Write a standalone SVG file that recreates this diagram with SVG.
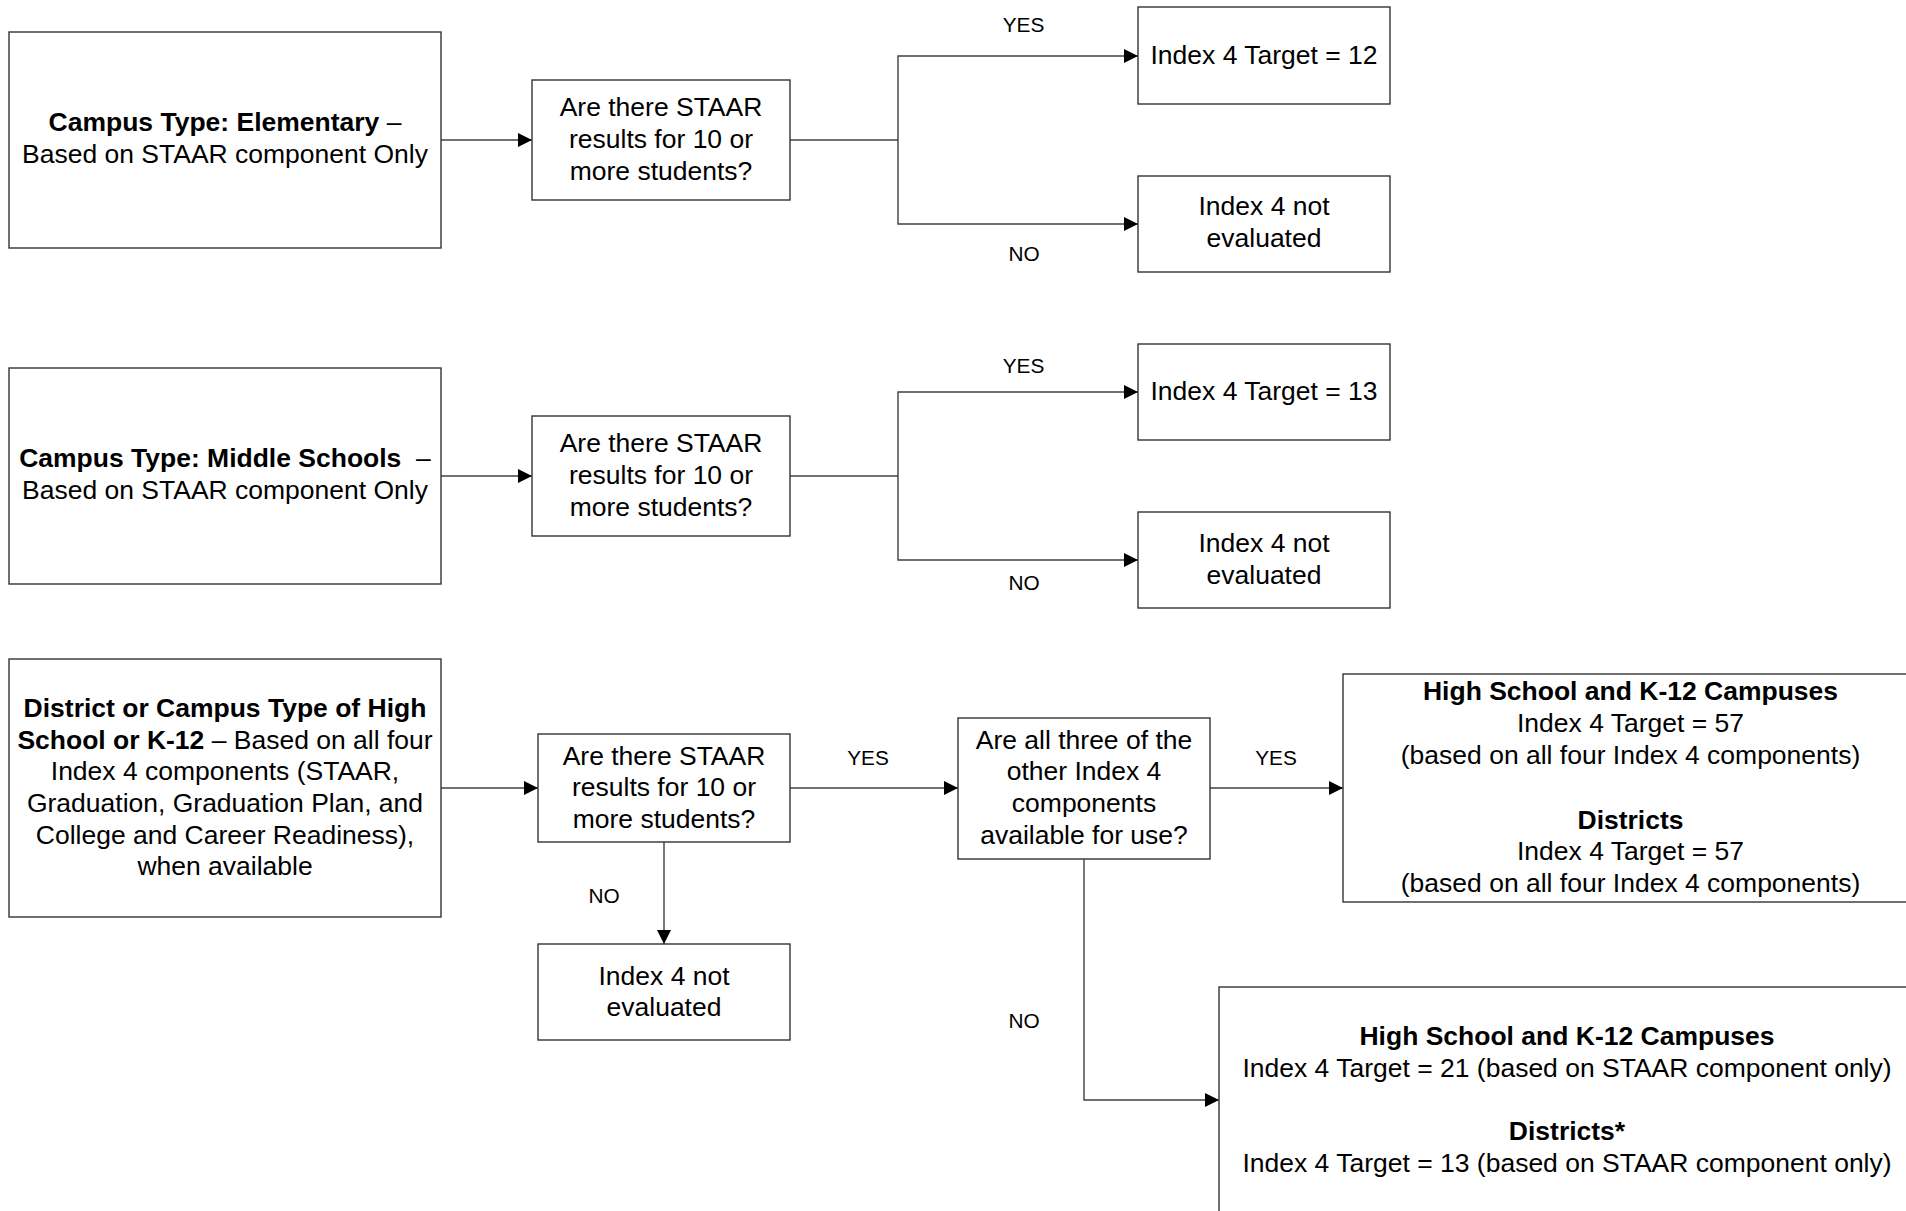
<svg xmlns="http://www.w3.org/2000/svg" width="1906" height="1211" viewBox="0 0 1906 1211">
<defs>
<marker id="arr" markerUnits="userSpaceOnUse" markerWidth="14" markerHeight="14" refX="14" refY="7" orient="auto">
<path d="M0,0 L14,7 L0,14 z" fill="#000"/>
</marker>
<style>
.box{fill:#fff;stroke:#333;stroke-width:1.4}
.t{font-family:"Liberation Sans",Arial,sans-serif;font-size:25px;fill:#000;text-anchor:middle}
.b{font-weight:bold}
.lbl{font-family:"Liberation Sans",Arial,sans-serif;font-size:20px;fill:#000;text-anchor:middle}
.c{fill:none;stroke:#404040;stroke-width:1.4}
</style>
</defs>
<rect width="1906" height="1211" fill="#fff"/>

<g id="connectors">
<path class="c" d="M441 140 H532" marker-end="url(#arr)"/>
<path class="c" d="M790 140 H898"/>
<path class="c" d="M898 140 V56 H1138" marker-end="url(#arr)"/>
<path class="c" d="M898 140 V224 H1138" marker-end="url(#arr)"/>
<path class="c" d="M441 476 H532" marker-end="url(#arr)"/>
<path class="c" d="M790 476 H898"/>
<path class="c" d="M898 476 V392 H1138" marker-end="url(#arr)"/>
<path class="c" d="M898 476 V560 H1138" marker-end="url(#arr)"/>
<path class="c" d="M441 788 H538" marker-end="url(#arr)"/>
<path class="c" d="M664 842 V944" marker-end="url(#arr)"/>
<path class="c" d="M790 788 H958" marker-end="url(#arr)"/>
<path class="c" d="M1210 788 H1343" marker-end="url(#arr)"/>
<path class="c" d="M1084 859 V1100 H1219" marker-end="url(#arr)"/>
<text class="lbl" transform="translate(1023.5 0) scale(1.04 1)" x="0" y="31.7">YES</text>
<text class="lbl" transform="translate(1024 0) scale(1.04 1)" x="0" y="261">NO</text>
<text class="lbl" transform="translate(1023.5 0) scale(1.04 1)" x="0" y="373.3">YES</text>
<text class="lbl" transform="translate(1024 0) scale(1.04 1)" x="0" y="590">NO</text>
<text class="lbl" transform="translate(868 0) scale(1.04 1)" x="0" y="765">YES</text>
<text class="lbl" transform="translate(1276 0) scale(1.04 1)" x="0" y="765">YES</text>
<text class="lbl" transform="translate(604 0) scale(1.04 1)" x="0" y="903.3">NO</text>
<text class="lbl" transform="translate(1024 0) scale(1.04 1)" x="0" y="1028.3">NO</text>
</g>

<g id="elementary">
<rect class="box" x="9" y="32" width="432" height="216"/>
<text class="t" transform="translate(225 0) scale(1.06 1)"><tspan x="0" y="131"><tspan class="b">Campus Type: Elementary</tspan> –</tspan><tspan x="0" y="163">Based on STAAR component Only</tspan></text>
</g>
<g id="q1">
<rect class="box" x="532" y="80" width="258" height="120"/>
<text class="t" transform="translate(661 0) scale(1.06 1)"><tspan x="0" y="116.5">Are there STAAR</tspan><tspan x="0" y="148.2">results for 10 or</tspan><tspan x="0" y="179.9">more students?</tspan></text>
</g>
<g id="target12">
<rect class="box" x="1138" y="7" width="252" height="97"/>
<text class="t" transform="translate(1264 0) scale(1.06 1)"><tspan x="0" y="64">Index 4 Target = 12</tspan></text>
</g>
<g id="noteval1">
<rect class="box" x="1138" y="176" width="252" height="96"/>
<text class="t" transform="translate(1264 0) scale(1.06 1)"><tspan x="0" y="215.5">Index 4 not</tspan><tspan x="0" y="247.2">evaluated</tspan></text>
</g>

<g id="middle">
<rect class="box" x="9" y="368" width="432" height="216"/>
<text class="t" transform="translate(225 0) scale(1.06 1)"><tspan x="0" y="467"><tspan class="b">Campus Type: Middle Schools</tspan>&#160; –</tspan><tspan x="0" y="499">Based on STAAR component Only</tspan></text>
</g>
<g id="q2">
<rect class="box" x="532" y="416" width="258" height="120"/>
<text class="t" transform="translate(661 0) scale(1.06 1)"><tspan x="0" y="452.2">Are there STAAR</tspan><tspan x="0" y="483.9">results for 10 or</tspan><tspan x="0" y="515.6">more students?</tspan></text>
</g>
<g id="target13">
<rect class="box" x="1138" y="344" width="252" height="96"/>
<text class="t" transform="translate(1264 0) scale(1.06 1)"><tspan x="0" y="400.5">Index 4 Target = 13</tspan></text>
</g>
<g id="noteval2">
<rect class="box" x="1138" y="512" width="252" height="96"/>
<text class="t" transform="translate(1264 0) scale(1.06 1)"><tspan x="0" y="552">Index 4 not</tspan><tspan x="0" y="583.7">evaluated</tspan></text>
</g>

<g id="highschool">
<rect class="box" x="9" y="659" width="432" height="258"/>
<text class="t" transform="translate(225 0) scale(1.06 1)"><tspan x="0" y="717" class="b">District or Campus Type of High</tspan><tspan x="0" y="748.7"><tspan class="b">School or K-12</tspan> – Based on all four</tspan><tspan x="0" y="780.4">Index 4 components (STAAR,</tspan><tspan x="0" y="812.1">Graduation, Graduation Plan, and</tspan><tspan x="0" y="843.8">College and Career Readiness),</tspan><tspan x="0" y="875.5">when available</tspan></text>
</g>
<g id="q3">
<rect class="box" x="538" y="734" width="252" height="108"/>
<text class="t" transform="translate(664 0) scale(1.06 1)"><tspan x="0" y="764.7">Are there STAAR</tspan><tspan x="0" y="796.4">results for 10 or</tspan><tspan x="0" y="828.1">more students?</tspan></text>
</g>
<g id="noteval3">
<rect class="box" x="538" y="944" width="252" height="96"/>
<text class="t" transform="translate(664 0) scale(1.06 1)"><tspan x="0" y="984.7">Index 4 not</tspan><tspan x="0" y="1016.4">evaluated</tspan></text>
</g>
<g id="q4">
<rect class="box" x="958" y="718" width="252" height="141"/>
<text class="t" transform="translate(1084 0) scale(1.06 1)"><tspan x="0" y="748.7">Are all three of the</tspan><tspan x="0" y="780.4">other Index 4</tspan><tspan x="0" y="812.1">components</tspan><tspan x="0" y="843.8">available for use?</tspan></text>
</g>
<g id="target57">
<rect class="box" x="1343" y="674" width="575" height="228"/>
<text class="t" transform="translate(1630.5 0) scale(1.06 1)"><tspan x="0" y="700.5" class="b">High School and K-12 Campuses</tspan><tspan x="0" y="732.2">Index 4 Target = 57</tspan><tspan x="0" y="763.9">(based on all four Index 4 components)</tspan><tspan x="0" y="828.7" class="b">Districts</tspan><tspan x="0" y="860.4">Index 4 Target = 57</tspan><tspan x="0" y="892.1">(based on all four Index 4 components)</tspan></text>
</g>
<g id="target21">
<rect class="box" x="1219" y="987" width="700" height="230"/>
<text class="t" transform="translate(1567 0) scale(1.06 1)"><tspan x="0" y="1045.5" class="b">High School and K-12 Campuses</tspan><tspan x="0" y="1077.2">Index 4 Target = 21 (based on STAAR component only)</tspan><tspan x="0" y="1140.5" class="b">Districts*</tspan><tspan x="0" y="1172.2">Index 4 Target = 13 (based on STAAR component only)</tspan></text>
</g>
</svg>
